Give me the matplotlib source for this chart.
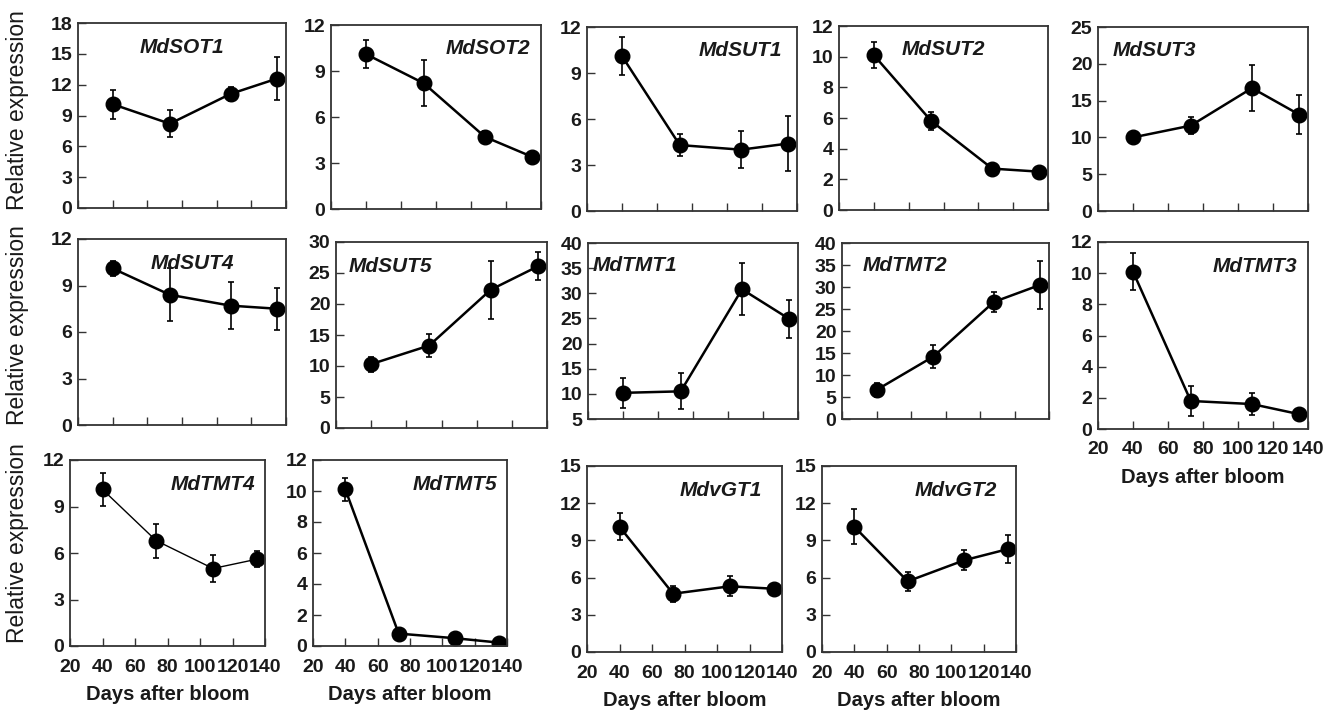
import numpy as np
import matplotlib
matplotlib.use('Agg')
import matplotlib.pyplot as plt

plt.rcParams['font.family'] = ['Liberation Sans', 'DejaVu Sans']

days = [40, 73, 108, 135]

sot1 = [10.1, 8.2, 11.1, 12.6]
sot1_err = [1.4, 1.3, 0.7, 2.1]
sot2 = [10.1, 8.2, 4.7, 3.4]
sot2_err = [0.9, 1.5, 0.4, 0.2]
sut1 = [10.1, 4.3, 4.0, 4.4]
sut1_err = [1.25, 0.7, 1.2, 1.8]
sut2 = [10.1, 5.8, 2.7, 2.5]
sut2_err = [0.85, 0.6, 0.2, 0.1]
sut3 = [10.0, 11.6, 16.7, 13.1]
sut3_err = [0.3, 1.2, 3.1, 2.7]
sut4 = [10.1, 8.4, 7.7, 7.5]
sut4_err = [0.5, 1.7, 1.5, 1.35]
sut5 = [10.3, 13.3, 22.3, 26.1]
sut5_err = [1.2, 1.8, 4.7, 2.3]
tmt1 = [10.2, 10.5, 30.8, 24.9]
tmt1_err = [3.0, 3.6, 5.2, 3.7]
tmt2 = [6.6, 14.2, 26.6, 30.5]
tmt2_err = [1.6, 2.7, 2.2, 5.5]
tmt3 = [10.1, 1.8, 1.6, 0.95]
tmt3_err = [1.2, 0.95, 0.7, 0.2]
tmt4 = [10.1, 6.8, 5.0, 5.6]
tmt4_err = [1.05, 1.1, 0.85, 0.5]
tmt5 = [10.1, 0.8, 0.5, 0.22]
tmt5_err = [0.75, 0.2, 0.1, 0.1]
vgt1 = [10.1, 4.7, 5.3, 5.1]
vgt1_err = [1.1, 0.65, 0.8, 0.35]
vgt2 = [10.1, 5.7, 7.4, 8.3]
vgt2_err = [1.4, 0.75, 0.8, 1.15]

W, H = 1336, 720

# name, values, errors, y limits, y step, box (left, top, right, bottom) in px,
# title x (axes frac), title ha, show x labels, line width
panels = [
    ('MdSOT1', sot1, sot1_err, (0, 18), 3, (78, 23, 286, 208), 0.5, 'center', False, 1.8),
    ('MdSOT2', sot2, sot2_err, (0, 12), 3, (331, 25, 541, 209), 0.95, 'right', False, 1.8),
    ('MdSUT1', sut1, sut1_err, (0, 12), 3, (587, 27, 797, 211), 0.93, 'right', False, 1.8),
    ('MdSUT2', sut2, sut2_err, (0, 12), 2, (839, 26, 1048, 210), 0.5, 'center', False, 1.8),
    ('MdSUT3', sut3, sut3_err, (0, 25), 5, (1098, 27, 1308, 211), 0.07, 'left', False, 1.8),
    ('MdSUT4', sut4, sut4_err, (0, 12), 3, (78, 239, 286, 425), 0.55, 'center', False, 1.8),
    ('MdSUT5', sut5, sut5_err, (0, 30), 5, (336, 242, 547, 428), 0.06, 'left', False, 1.8),
    ('MdTMT1', tmt1, tmt1_err, (5, 40), 5, (588, 243, 798, 419), 0.02, 'left', False, 1.8),
    ('MdTMT2', tmt2, tmt2_err, (0, 40), 5, (842, 243, 1049, 419), 0.1, 'left', False, 1.8),
    ('MdTMT3', tmt3, tmt3_err, (0, 12), 2, (1098, 242, 1308, 429), 0.95, 'right', True, 1.8),
    ('MdTMT4', tmt4, tmt4_err, (0, 12), 3, (70, 460, 265, 646), 0.95, 'right', True, 1.0),
    ('MdTMT5', tmt5, tmt5_err, (0, 12), 2, (313, 460, 507, 646), 0.95, 'right', True, 1.8),
    ('MdvGT1', vgt1, vgt1_err, (0, 15), 3, (587, 466, 782, 652), 0.9, 'right', True, 1.8),
    ('MdvGT2', vgt2, vgt2_err, (0, 15), 3, (822, 466, 1016, 652), 0.9, 'right', True, 1.8),
]

fig = plt.figure(figsize=(W / 100, H / 100), dpi=100)
txt = '#1a1a1a'

for name, vals, errs, ylim, ystep, box, tx, tha, xlab, lw in panels:
    l, t, r, b = box
    ax = fig.add_axes([l / W, 1 - b / H, (r - l) / W, (b - t) / H])
    ax.errorbar(days, vals, yerr=errs, color='black', marker='o', markersize=10.5,
                linewidth=lw, elinewidth=1.2, capsize=2.5, capthick=1.2)
    ax.set_xlim(20, 140)
    ax.set_ylim(*ylim)
    ax.set_xticks(np.arange(20, 141, 20))
    ax.set_yticks(np.arange(ylim[0], ylim[1] + 0.1, ystep))
    ax.tick_params(direction='in', length=6, width=1, colors='#333333',
                   labelcolor=txt, labelsize=14, pad=4)
    ax.tick_params(axis='x', pad=9)
    for lab in ax.get_yticklabels() + ax.get_xticklabels():
        lab.set_fontweight('bold')
    if xlab:
        ax.set_xlabel('Days after bloom', fontsize=14.5, fontweight='bold', color=txt, labelpad=7)
    else:
        ax.set_xticklabels([])
    for sp in ax.spines.values():
        sp.set_linewidth(1.3)
        sp.set_color('#333333')
    ax.text(tx, 0.87, name, transform=ax.transAxes, ha=tha, va='center',
            fontsize=15, fontweight='bold', fontstyle='italic', color=txt)

for yc in [110, 325, 543]:
    fig.text(18 / W, 1 - yc / H, 'Relative expression', rotation=90, ha='center', va='center',
             fontsize=16.5, color=txt)

fig.savefig('out.png', dpi=100)
